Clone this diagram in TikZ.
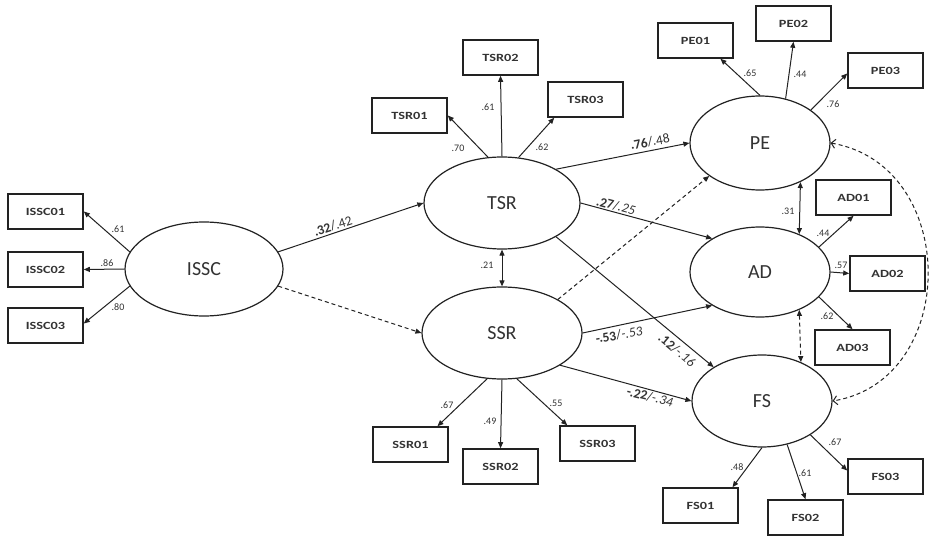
\documentclass[tikz,border=0pt]{standalone}
\usepackage{fontspec}
\setmainfont{Carlito}
\newfontfamily\indfont[FakeStretch=1.3]{Carlito}
\usetikzlibrary{arrows.meta,shapes.geometric}
\definecolor{ink}{HTML}{222222}
\definecolor{txt}{HTML}{333333}
\begin{document}
\begin{tikzpicture}[x=1pt,y=-1pt,
 latent/.style={ellipse,draw=ink,line width=1.2pt,inner sep=0pt,font=\fontsize{20}{24}\selectfont,text=txt},
 indbox/.style={rectangle,draw=ink,line width=1.6pt,minimum width=75pt,minimum height=35pt,inner sep=0pt,font=\indfont\bfseries\fontsize{11}{13}\selectfont,text=txt},
 arr/.style={draw=ink,line width=1pt,-{Triangle[length=6pt,width=5pt]}},
 dbl/.style={draw=ink,line width=1pt,{Triangle[length=6pt,width=5pt]}-{Triangle[length=6pt,width=5pt]}},
 dsh/.style={dash pattern=on 4pt off 3pt},
 barbs/.style={draw=ink,line width=1pt,{Straight Barb[length=4pt,width=9pt]}-{Straight Barb[length=4pt,width=9pt]}},
 wlab/.style={font=\fontsize{10}{12}\selectfont,text=txt,inner sep=0pt},
 clab/.style={font=\fontsize{13.5}{16}\selectfont,text=txt,inner sep=0pt},
]
\useasboundingbox (0,0) rectangle (931,537);
\fill[white] (0,0) rectangle (931,537);

% latent variables
\node[latent,minimum width=158pt,minimum height=94pt] (issc) at (204,269) {ISSC};
\node[latent,minimum width=156pt,minimum height=92pt] (tsr) at (502,203) {TSR};
\node[latent,minimum width=160pt,minimum height=92pt] (ssr) at (502,333) {SSR};
\node[latent,minimum width=140pt,minimum height=94pt] (pe) at (760,143) {PE};
\node[latent,minimum width=140pt,minimum height=90pt] (ad) at (760,272) {AD};
\node[latent,minimum width=140pt,minimum height=92pt] (fs) at (762,401) {FS};

% indicators
\node[indbox] (issc01) at (45.5,211.5) {ISSC01};
\node[indbox] (issc02) at (45.5,269.5) {ISSC02};
\node[indbox] (issc03) at (45.5,325.5) {ISSC03};
\node[indbox] (tsr01) at (409.5,115.5) {TSR01};
\node[indbox] (tsr02) at (500.5,57.5) {TSR02};
\node[indbox] (tsr03) at (585.5,99.5) {TSR03};
\node[indbox] (pe01) at (695.5,40.5) {PE01};
\node[indbox] (pe02) at (793.5,23.5) {PE02};
\node[indbox] (pe03) at (885.5,70.5) {PE03};
\node[indbox] (ad01) at (853.5,197.5) {AD01};
\node[indbox] (ad02) at (887.5,273.5) {AD02};
\node[indbox] (ad03) at (852.5,347.5) {AD03};
\node[indbox] (ssr01) at (410.5,444.5) {SSR01};
\node[indbox] (ssr02) at (500.5,466.5) {SSR02};
\node[indbox] (ssr03) at (597.5,443.5) {SSR03};
\node[indbox] (fs01) at (700.5,505.5) {FS01};
\node[indbox] (fs02) at (805.5,517.5) {FS02};
\node[indbox] (fs03) at (885.5,476.5) {FS03};

% measurement arrows
\draw[arr] (issc.167) -- (issc01.east);
\draw[arr] (issc.180) -- (issc02.east);
\draw[arr] (issc.193) -- ([yshift=2pt]issc03.east);
\draw[arr] (tsr.107) -- (tsr01.east);
\draw[arr] (tsr.90) -- (tsr02.south);
\draw[arr] (tsr.70) -- ([xshift=7pt]tsr03.south west);
\draw[arr] (pe.90) -- ([xshift=25pt]pe01.south);
\draw[arr] (pe.60) -- (pe02.south);
\draw[arr] (pe.33) -- ([yshift=-3pt]pe03.west);
\draw[arr] (ad.23) -- (ad01.south);
\draw[arr] (ad.0) -- (ad02.west);
\draw[arr] (ad.-23) -- (ad03.north);
\draw[arr] (ssr.-108) -- ([xshift=27pt]ssr01.north);
\draw[arr] (ssr.-90) -- (ssr02.north);
\draw[arr] (ssr.-72) -- ([xshift=8pt]ssr03.north west);
\draw[arr] (fs.-90) -- ([xshift=32pt]fs01.north);
\draw[arr] (fs.-60) -- (fs02.north);
\draw[arr] (fs.-35) -- ([yshift=6pt]fs03.west);

% structural paths
\draw[arr] (issc.13.5) -- (tsr.180);
\draw[arr,dsh] (issc.-13.5) -- (ssr.180);
\draw[arr] (tsr.32) -- (pe.180);
\draw[arr] (tsr.0) -- (ad.145.5);
\draw[arr] (tsr.-32) -- (fs.145);
\draw[arr,dsh] (ssr.31) -- (pe.-147);
\draw[arr] (ssr.0) -- (ad.-145.5);
\draw[arr] (ssr.-29.5) -- (fs.180);

% correlations
\draw[dbl] (tsr.south) -- (ssr.north);
\draw[dbl] (pe.-44) -- (ad.44);
\draw[dbl,dsh] (ad.-44) -- (fs.45.5);
\draw[barbs,dsh] (pe.east) .. controls (960,165) and (960,380) .. (fs.east);

% loading labels
\node[wlab] (l1) at (118,229) {.61};
\node[wlab] (l2) at (107,263) {.86};
\node[wlab] (l3) at (118,307) {.80};
\node[wlab] (l4) at (458,148) {.70};
\node[wlab] (l5) at (488,107) {.61};
\node[wlab] (l6) at (542,147) {.62};
\node[wlab] (l7) at (750,73) {.65};
\node[wlab] (l8) at (800,74) {.44};
\node[wlab] (l9) at (833,104) {.76};
\node[wlab] (l10) at (788,211) {.31};
\node[wlab] (l11) at (487,265) {.21};
\node[wlab] (l12) at (823,233) {.44};
\node[wlab] (l13) at (841,265) {.57};
\node[wlab] (l14) at (827,316) {.62};
\node[wlab] (l15) at (447,405) {.67};
\node[wlab] (l16) at (490,421) {.49};
\node[wlab] (l17) at (556,403) {.55};
\node[wlab] (l18) at (737,467) {.48};
\node[wlab] (l19) at (805,473) {.61};
\node[wlab] (l20) at (835,442) {.67};

% path coefficient labels
\node[clab,rotate=18] (c1) at (333,226) {\textbf{.32}/.42};
\node[clab,rotate=10.7] (c2) at (650,142) {\textbf{.76}/.48};
\node[clab,rotate=-15] (c3) at (616,206) {\textbf{.27}/\textit{.25}};
\node[clab,rotate=10] (c4) at (619,335) {\textbf{-.53}/\textit{-.53}};
\node[clab,rotate=-40] (c5) at (677,350) {\textbf{.12}/\textit{-.16}};
\node[clab,rotate=-14] (c6) at (650,397) {\textbf{-.22}/\textit{-.34}};
\end{tikzpicture}
\end{document}
